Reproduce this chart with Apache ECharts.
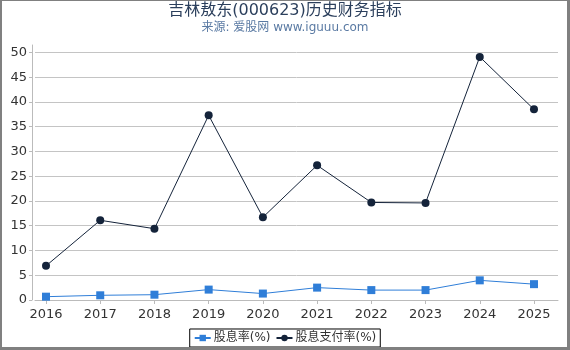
<!DOCTYPE html>
<html>
<head>
<meta charset="utf-8">
<title>吉林敖东(000623)历史财务指标</title>
<script src="https://cdn.jsdelivr.net/npm/echarts@6/dist/echarts.min.js"></script>
<style>
  html, body { margin: 0; padding: 0; background: #fff; }
  #wrap { position: relative; width: 570px; height: 350px; }
  #chart { width: 570px; height: 350px; }
  #frame {
    position: absolute; left: 0; top: 0; width: 570px; height: 350px;
    box-sizing: border-box; pointer-events: none;
    border-left: 2px solid #808080; border-top: 1px solid #808080;
    border-right: 3px solid #808080; border-bottom: 3px solid #808080;
  }
</style>
</head>
<body>
<div id="wrap">
  <div id="chart"></div>
  <div id="frame"></div>
</div>
<script>
// 年份
const years = [2016, 2017, 2018, 2019, 2020, 2021, 2022, 2023, 2024, 2025];
// 股息率(%)
const yieldRate = [0.67, 0.95, 1.07, 2.1, 1.3, 2.5, 2.0, 2.0, 3.97, 3.2];
// 股息支付率(%)
const payoutRate = [6.9, 16.1, 14.4, 37.3, 16.7, 27.2, 19.7, 19.6, 49.1, 38.5];

const font = "'DejaVu Sans', 'Noto Sans CJK SC', sans-serif";

const toPairs = (vals) => years.map((y, i) => [y, vals[i]]);

const myChart = echarts.init(document.getElementById('chart'));

const option = {
  animation: false,
  textStyle: { fontFamily: font },
  title: {
    text: '吉林敖东(000623)历史财务指标',
    subtext: '来源: 爱股网 www.iguuu.com',
    left: 'center',
    top: -2,
    itemGap: 3,
    textStyle: { fontSize: 16, fontWeight: 'normal', color: '#2b3f5c', fontFamily: font },
    subtextStyle: { fontSize: 12, color: '#5a7aa3', fontFamily: font }
  },
  legend: {
    bottom: 3,
    left: 'center',
    borderColor: '#000',
    borderWidth: 1,
    borderRadius: 0,
    padding: [3, 4],
    itemGap: 5,
    itemWidth: 16,
    itemHeight: 8,
    textStyle: { fontSize: 12, color: '#333', fontFamily: font, padding: [0, 0, 0, -2] },
    data: ['股息率(%)', '股息支付率(%)']
  },
  grid: { left: 35, right: 12, top: 45, bottom: 50 },
  xAxis: {
    type: 'value',
    min: 2015.797,
    max: 2025.443,
    offset: 4,
    axisLine: { lineStyle: { color: '#bbb' } },
    axisTick: { customValues: years, length: 4, lineStyle: { color: '#bbb' } },
    axisLabel: {
      customValues: years,
      color: '#333',
      fontSize: 13,
      margin: 4,
      formatter: (v) => String(v)
    },
    splitLine: { show: false }
  },
  yAxis: {
    type: 'value',
    min: 0,
    max: 51.5,
    interval: 5,
    offset: 3,
    axisLine: { show: true, lineStyle: { color: '#bbb' } },
    axisTick: { show: true, length: 3, lineStyle: { color: '#bbb' } },
    axisLabel: { color: '#333', fontSize: 13, margin: 5, showMaxLabel: false },
    splitLine: { show: true, showMaxLine: false, lineStyle: { color: '#c4c4c4', width: 1 } }
  },
  series: [
    {
      name: '股息率(%)',
      type: 'line',
      data: toPairs(yieldRate),
      symbol: 'rect',
      symbolSize: 8,
      itemStyle: { color: '#2f7ed8' },
      lineStyle: { width: 1, color: '#2f7ed8' }
    },
    {
      name: '股息支付率(%)',
      type: 'line',
      data: toPairs(payoutRate),
      symbol: 'circle',
      symbolSize: 8,
      itemStyle: { color: '#14233a' },
      lineStyle: { width: 1, color: '#14233a' }
    }
  ]
};

myChart.setOption(option);
</script>
</body>
</html>
